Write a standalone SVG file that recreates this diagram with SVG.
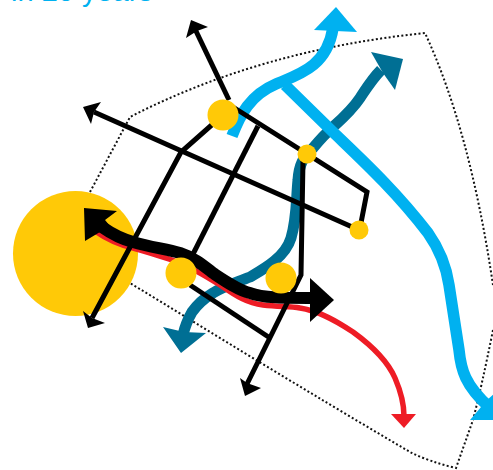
<svg xmlns="http://www.w3.org/2000/svg" width="493" height="470" viewBox="0 0 493 470">
<style>
.dot{fill:none;stroke:#111;stroke-width:2;stroke-dasharray:2 2.3}
.k{fill:none;stroke:#000;stroke-width:5}
.kh{fill:#000}
.y{fill:#ffc907}
.c{fill:none;stroke:#00b1f0;stroke-width:11.5}
.t{fill:none;stroke:#006f94;stroke-width:11}
.txt{font-family:"Liberation Sans",Arial,sans-serif;font-size:29px;fill:#00b1f0}
</style>
<rect width="493" height="470" fill="#fff"/>
<text class="txt" x="11" y="1">in 20 years</text>
<g id="boundary">
<path class="dot" d="M90 192L130 117Q260 50 425 33Q470 130 493 285"/>
<path class="dot" d="M493 330Q482 385 473 420L456 468Q430 462 410 452Q330 405 243 352L130 283"/>
</g>
<g id="city"><circle class="y" cx="75.500" cy="253.500" r="62.500"/></g>
<g id="connectors">
<path class="t" d="M381 70C372 79 366 89 360 98C352 110 343 118 333 127C325 134 318 142 313 148C303 157 299 165 298 180C296 200 297 218 291 238C285 258 262 270 250 277C235 283 222 287 213 293C203 299 197 305 192 312C188 319 185 326 183 335"/>
<polygon fill="#006f94" points="403,59 371,52 383,73 395,90"/>
<polygon fill="#006f94" points="181,353 163,327 184,332 206,333"/>
<path class="c" d="M232 136C240 115 250 95 276 84C300 74 327 66 333 28"/>
<path class="c" d="M285 85L333 132C360 158 395 190 428 233C440 250 446 265 449 285L459 350C461 370 465 385 489 407"/>
<polygon fill="#00b1f0" points="336,7 314,30 357,32"/>
<polygon fill="#00b1f0" points="470,420 487,400 495,393 495,420"/>
<path fill="none" stroke="#ee1c25" stroke-width="5.500" d="M95 231C108 240 120 245 133 248C148 252 160 256 172 260C190 266 205 276 220 285C232 293 245 303 263 305C280 307 290 306 300 308C320 311 338 322 353 332C375 348 388 362 395 378C401 392 404 402 404 416"/>
<polygon fill="#ee1c25" points="404,428 391,414 416,414"/>
<path fill="none" stroke="#000" stroke-width="12" d="M102 227C112 234 122 239 133 242C150 247 165 249 180 253C195 258 204 266 213 273C225 281 238 290 250 293C262 298 285 298 315 298"/>
<polygon class="kh" points="84,208 117,211 105,220 110,226 85,241"/>
<polygon class="kh" points="334,300 310,278 310,322"/>
<path class="k" d="M229 100L195 29"/>
<polygon class="kh" points="191,20 208,27 197,31 186,38"/>
<path class="k" d="M359 230L94 112"/>
<polygon class="kh" points="83,107 101,102 94,112 91,124"/>
<path class="k" d="M223 115L181 152L92 318"/>
<polygon class="kh" points="88,328 83,311 92,318 105,323"/>
<path class="k" d="M258 126L191 258"/>
<path class="k" d="M190 285L270 338"/>
<path class="k" d="M225 102L367 192L360 228"/>
<path class="k" d="M303 160L301 275L247 384"/>
<polygon class="kh" points="245,396 240,378 247,383 261,388"/>
</g>
<g id="n1"><circle class="y" cx="223" cy="115" r="15.500"/></g>
<g id="n2"><circle class="y" cx="307" cy="154" r="9.500"/></g>
<g id="n3"><circle class="y" cx="359" cy="230" r="9.500"/></g>
<g id="n4"><circle class="y" cx="181" cy="273" r="15.500"/></g>
<g id="n5"><circle class="y" cx="281" cy="278" r="15.500"/></g>
</svg>
